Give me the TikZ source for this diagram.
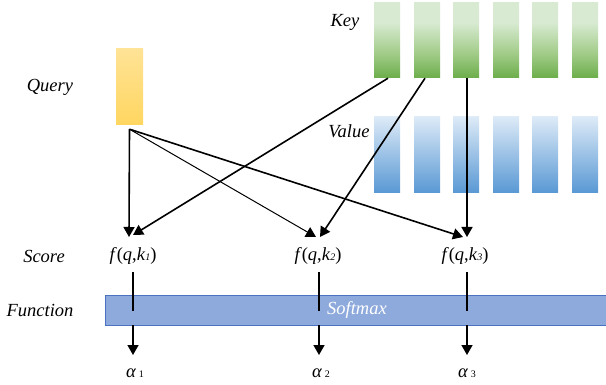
\documentclass[tikz,border=0pt]{standalone}
\usepackage{fontspec}
\setmainfont{Liberation Serif}
\usetikzlibrary{arrows.meta}

\definecolor{gLight}{HTML}{D8EAD2}
\definecolor{gMid}{HTML}{A3CD8A}
\definecolor{gDark}{HTML}{6CAD4A}
\definecolor{bLight}{HTML}{DDEAF7}
\definecolor{bDark}{HTML}{5898D4}
\definecolor{yLight}{HTML}{FFE396}
\definecolor{yDark}{HTML}{FFD660}
\definecolor{smFill}{HTML}{8EA9DB}
\definecolor{smEdge}{HTML}{4A72C0}

% key columns: light over the upper part, darkening towards the bottom
\pgfdeclareverticalshading{keyshade}{100bp}{color(0bp)=(gDark); color(25bp)=(gDark);
  color(42bp)=(gMid); color(62bp)=(gLight); color(100bp)=(gLight)}

\tikzset{
  lbl/.style={font=\fontsize{18.5}{21}\selectfont\itshape, inner sep=0pt},
  keybar/.style={minimum width=26pt, minimum height=75pt, inner sep=0pt,
    shading=keyshade},
  valbar/.style={minimum width=26pt, minimum height=76pt, inner sep=0pt,
    top color=bLight, bottom color=bDark},
  qbar/.style={minimum width=27pt, minimum height=76pt, inner sep=0pt,
    top color=yLight, bottom color=yDark},
  score/.style={font=\fontsize{18.5}{21}\selectfont, inner sep=0pt},
  arr/.style={line width=1.6pt, -{Triangle[width=11pt,length=10pt]}},
  thinarr/.style={line width=1pt, -{Triangle[width=11pt,length=10pt]}},
  plain/.style={line width=1.6pt},
}

\begin{document}
\begin{tikzpicture}[x=1pt, y=-1pt]
\useasboundingbox (0,0) rectangle (606,385);

% key and value columns
\foreach \i/\x in {1/387,2/427,3/466,4/506,5/545,6/585}{
  \node[keybar] (k\i) at (\x,40.5) {};
  \node[valbar] (v\i) at (\x,155) {};
}
% query column
\node[qbar] (q) at (129.5,87) {};

% row and column labels
\node[lbl] (lq) at (50,87) {Query};
\node[lbl] (lk) at (345,22) {Key};
\node[lbl] (lv) at (349,131) {Value};
\node[lbl] (ls) at (44,256) {Score};
\node[lbl] (lf) at (40,310) {Function};

% score nodes
\node[score] (s1) at (133,256) {\textit{f}(\textit{q},\textit{k}{\fontsize{10}{10}\selectfont\textit{1}})};
\node[score] (s2) at (318,256) {\textit{f}(\textit{q},\textit{k}{\fontsize{10}{10}\selectfont\textit{2}})};
\node[score] (s3) at (465,256) {\textit{f}(\textit{q},\textit{k}{\fontsize{10}{10}\selectfont\textit{3}})};

% softmax bar
\node[draw=smEdge, line width=0.8pt, fill=smFill, minimum width=501pt, minimum height=30pt,
      inner sep=0pt, anchor=west] (sm) at (105,310) {};
\node[lbl, text=white] (smt) at (357,310) {Softmax};

% outputs
\node[lbl] (a1) at (135,373) {α\,{\fontsize{10}{10}\selectfont\upshape 1}};
\node[lbl] (a2) at (321,373) {α\,{\fontsize{10}{10}\selectfont\upshape 2}};
\node[lbl] (a3) at (467,373) {α\,{\fontsize{10}{10}\selectfont\upshape 3}};

% query to scores
\coordinate (qo) at ([yshift=-4pt]q.south);
\draw[arr] (qo) -- ([xshift=-4pt,yshift=19pt]s1.center);
\draw[thinarr] (qo) -- ([xshift=-2pt,yshift=19pt]s2.center);
\draw[arr] (qo) -- ([xshift=-2pt,yshift=19pt]s3.center);

% keys to scores
\draw[arr] ([xshift=1pt]k1.south) -- ([xshift=0pt,yshift=21pt]s1.center);
\draw[arr] ([xshift=-2pt]k2.south) -- ([xshift=2pt,yshift=19pt]s2.center);
\draw[arr] ([xshift=1pt]k3.south) -- ([xshift=2pt,yshift=19pt]s3.center);

% scores into softmax
\draw[plain] ([yshift=-16pt]s1.center) -- ([yshift=-16pt]s1.center |- sm.north);
\draw[plain] ([xshift=1pt,yshift=-16pt]s2.center) -- ([xshift=1pt,yshift=-16pt]s2.center |- sm.north);
\draw[plain] ([xshift=2pt,yshift=-16pt]s3.center) -- ([xshift=2pt,yshift=-16pt]s3.center |- sm.north);

% softmax to outputs
\draw[arr] (s1.center |- sm.south) -- ([yshift=18pt]s1.center |- a1.center);
\draw[arr] ([xshift=1pt]s2.center |- sm.south) -- ([xshift=1pt,yshift=18pt]s2.center |- a2.center);
\draw[arr] ([xshift=2pt]s3.center |- sm.south) -- ([xshift=2pt,yshift=18pt]s3.center |- a3.center);
\end{tikzpicture}
\end{document}
